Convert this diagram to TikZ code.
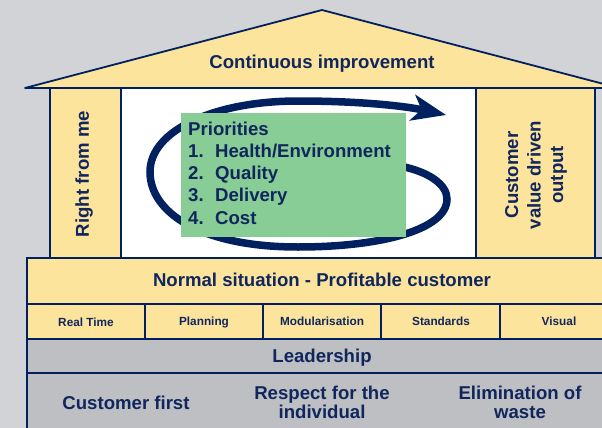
\documentclass[tikz,border=0pt]{standalone}
\usepackage{fontspec}
\setmainfont{Liberation Sans}
\usetikzlibrary{arrows.meta}
\definecolor{navy}{RGB}{0,32,96}
\definecolor{txt}{RGB}{16,38,92}
\definecolor{pale}{RGB}{252,228,157}
\definecolor{leaf}{RGB}{136,204,150}
\definecolor{bgc}{RGB}{210,211,214}
\definecolor{rowgray}{RGB}{190,191,195}
\tikzset{
  box/.style={draw=navy, line width=1.8pt, fill=pale},
  graybox/.style={draw=navy, line width=1.8pt, fill=rowgray},
  big/.style={text=txt, font=\fontsize{18.6}{22.5}\selectfont\bfseries, inner sep=0pt},
  small/.style={text=txt, font=\fontsize{11.8}{13}\selectfont\bfseries, inner sep=0pt, anchor=base},
  loopline/.style={draw=navy, line width=7.5pt},
}
\begin{document}
\begin{tikzpicture}[x=1pt,y=-1pt]
\useasboundingbox (0,0) rectangle (602,428);
\clip (0,0) rectangle (602,428);
\fill[bgc] (0,0) rectangle (602,428);
% roof
\draw[box, line join=round] (25,88) -- (322,10) -- (619,88) -- cycle;
\node[big, anchor=base] (roof) at (322,68) {Continuous improvement};
% pillars
\draw[box] (50,88) rectangle (121,258);
\draw[box, fill=white] (121,88) rectangle (476,258);
\draw[box] (476,88) rectangle (595,258);
\node[big, rotate=90] (left) at (84,174) {Right from me};
\node[big, rotate=90, align=center] (right) at (536,175) {Customer\\value driven\\output};
% loop
\draw[loopline, -{Stealth[length=34pt,width=26pt,inset=9pt]}]
  (400,166) .. controls (430,172) and (447,185) .. (447,199)
  .. controls (447,230) and (380,247) .. (298,247)
  .. controls (200,247) and (150,212) .. (150,172)
  .. controls (150,130) and (215,101) .. (298,101)
  .. controls (360,101) and (405,106) .. (446,115);
% priorities
\fill[leaf] (181,113) rectangle (406,237);
\node[big, anchor=base west] (p0) at (188,135) {Priorities};
\node[big, anchor=base west] (p1n) at (188,157) {1.};
\node[big, anchor=base west] (p1) at (215,157) {Health/Environment};
\node[big, anchor=base west] (p2n) at (188,179) {2.};
\node[big, anchor=base west] (p2) at (215,179) {Quality};
\node[big, anchor=base west] (p3n) at (188,201.5) {3.};
\node[big, anchor=base west] (p3) at (215,201.5) {Delivery};
\node[big, anchor=base west] (p4n) at (188,224) {4.};
\node[big, anchor=base west] (p4) at (215,224) {Cost};
% normal situation
\draw[box] (27,258) rectangle (617,304);
\node[big, anchor=base] (normal) at (322,286.5) {Normal situation - Profitable customer};
% sub boxes
\draw[box] (27,304) rectangle (145,339);
\draw[box] (145,304) rectangle (263,339);
\draw[box] (263,304) rectangle (381,339);
\draw[box] (381,304) rectangle (500,339);
\draw[box] (500,304) rectangle (618,339);
\node[small] (s1) at (86,326) {Real Time};
\node[small] (s2) at (204,325) {Planning};
\node[small] (s3) at (322,325) {Modularisation};
\node[small] (s4) at (441,325) {Standards};
\node[small] (s5) at (559,325) {Visual};
% leadership
\draw[graybox] (27,339) rectangle (617,373);
\node[big, anchor=base] (lead) at (322,362) {Leadership};
% bottom
\draw[graybox] (27,373) rectangle (617,440);
\node[big, anchor=base] (b1) at (126,409.5) {Customer first};
\node[big, anchor=base] (b2a) at (322,399.5) {Respect for the};
\node[big, anchor=base] (b2b) at (322,418.5) {individual};
\node[big, anchor=base] (b3a) at (520,399.5) {Elimination of};
\node[big, anchor=base] (b3b) at (520,418.5) {waste};
\end{tikzpicture}
\end{document}
